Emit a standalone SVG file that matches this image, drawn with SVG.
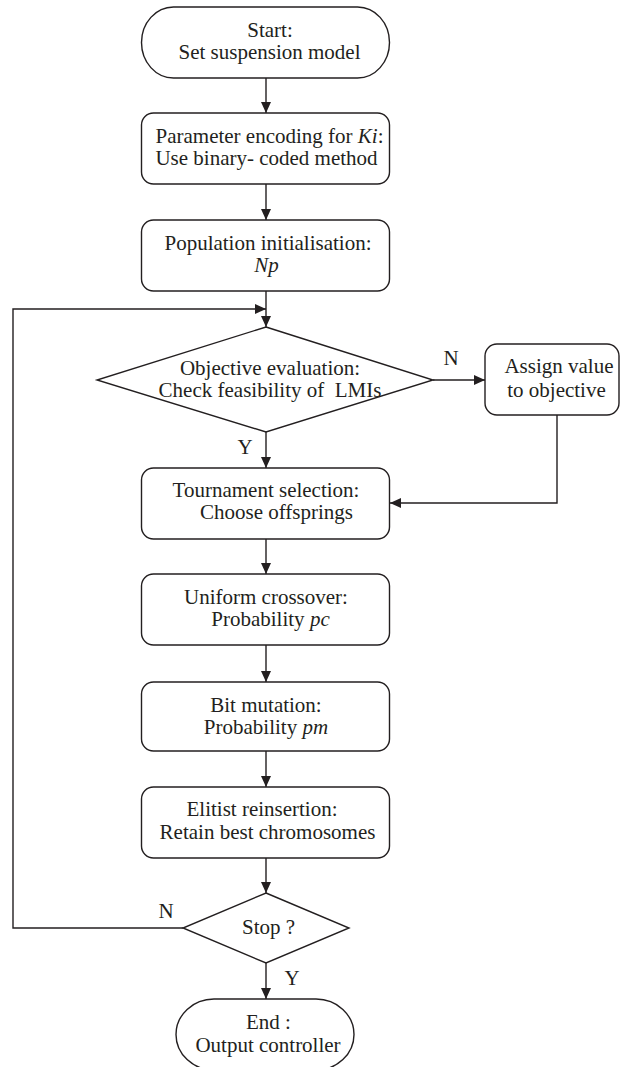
<svg xmlns="http://www.w3.org/2000/svg" width="620" height="1067" viewBox="0 0 620 1067">
<style>
.n{fill:#fff;stroke:#231f20;stroke-width:1.4}
.c{fill:none;stroke:#231f20;stroke-width:1.4}
text{font-family:"Liberation Serif","Times New Roman",serif;font-size:21px;fill:#231f20;text-anchor:middle}
.i{font-style:italic}
</style>
<defs>
<marker id="a" markerUnits="userSpaceOnUse" markerWidth="11" markerHeight="10" refX="11" refY="5" orient="auto">
<path d="M0,0 L11,5 L0,10 z" fill="#231f20"/>
</marker>
</defs>
<rect width="620" height="1067" fill="#fff"/>
<g id="connectors">
<path class="c" d="M266,78 V113" marker-end="url(#a)"/>
<path class="c" d="M266,184 V220" marker-end="url(#a)"/>
<path class="c" d="M266,291 V327" marker-end="url(#a)"/>
<path class="c" d="M183,928 H13 V309 H266" marker-end="url(#a)"/>
<path class="c" d="M433,380 H485" marker-end="url(#a)"/>
<path class="c" d="M557,415 V503 H390" marker-end="url(#a)"/>
<path class="c" d="M266,432 V468" marker-end="url(#a)"/>
<path class="c" d="M266,539 V574" marker-end="url(#a)"/>
<path class="c" d="M266,645 V682" marker-end="url(#a)"/>
<path class="c" d="M266,751 V787" marker-end="url(#a)"/>
<path class="c" d="M266,858 V893" marker-end="url(#a)"/>
<path class="c" d="M266,963 V999" marker-end="url(#a)"/>
<text x="451" y="365">N</text>
<text x="245" y="454">Y</text>
<text x="166" y="918">N</text>
<text x="292" y="985">Y</text>
</g>
<g id="start">
<rect class="n" x="141.5" y="7" width="248" height="71" rx="32" ry="35.5"/>
<text x="270" y="37">Start:</text>
<text x="269.5" y="59">Set suspension model</text>
</g>
<g id="encoding">
<rect class="n" x="141.5" y="113" width="248" height="71" rx="12"/>
<text x="269.5" y="143">Parameter encoding for <tspan class="i">Ki</tspan>:</text>
<text x="266.5" y="165">Use binary- coded method</text>
</g>
<g id="population">
<rect class="n" x="141.5" y="220" width="248" height="71" rx="12"/>
<text x="268" y="250">Population initialisation:</text>
<text x="266.5" y="272" class="i">Np</text>
</g>
<g id="objective">
<polygon class="n" points="266,327 433,380 266,432 97,380"/>
<text x="270" y="375">Objective evaluation:</text>
<text x="270" y="397" xml:space="preserve">Check feasibility of  LMIs</text>
</g>
<g id="assign">
<rect class="n" x="485" y="344" width="134" height="71" rx="12"/>
<text x="559" y="373">Assign value</text>
<text x="556.5" y="397">to objective</text>
</g>
<g id="tournament">
<rect class="n" x="141.5" y="468" width="248" height="71" rx="12"/>
<text x="266" y="497">Tournament selection:</text>
<text x="276.5" y="519">Choose offsprings</text>
</g>
<g id="crossover">
<rect class="n" x="141.5" y="574" width="248" height="71" rx="12"/>
<text x="266" y="604">Uniform crossover:</text>
<text x="270.5" y="626">Probability <tspan class="i">pc</tspan></text>
</g>
<g id="mutation">
<rect class="n" x="141.5" y="682" width="248" height="69" rx="12"/>
<text x="266" y="712">Bit mutation:</text>
<text x="266" y="734">Probability <tspan class="i">pm</tspan></text>
</g>
<g id="reinsertion">
<rect class="n" x="141.5" y="787" width="248" height="71" rx="12"/>
<text x="262" y="816">Elitist reinsertion:</text>
<text x="267.5" y="839">Retain best chromosomes</text>
</g>
<g id="stop">
<polygon class="n" points="266,893 349,928 266,963 183,928"/>
<text x="268.5" y="934">Stop ?</text>
</g>
<g id="end">
<rect class="n" x="176" y="999" width="178" height="71" rx="38" ry="35.5"/>
<text x="268.5" y="1029">End :</text>
<text x="268" y="1052">Output controller</text>
</g>
</svg>
